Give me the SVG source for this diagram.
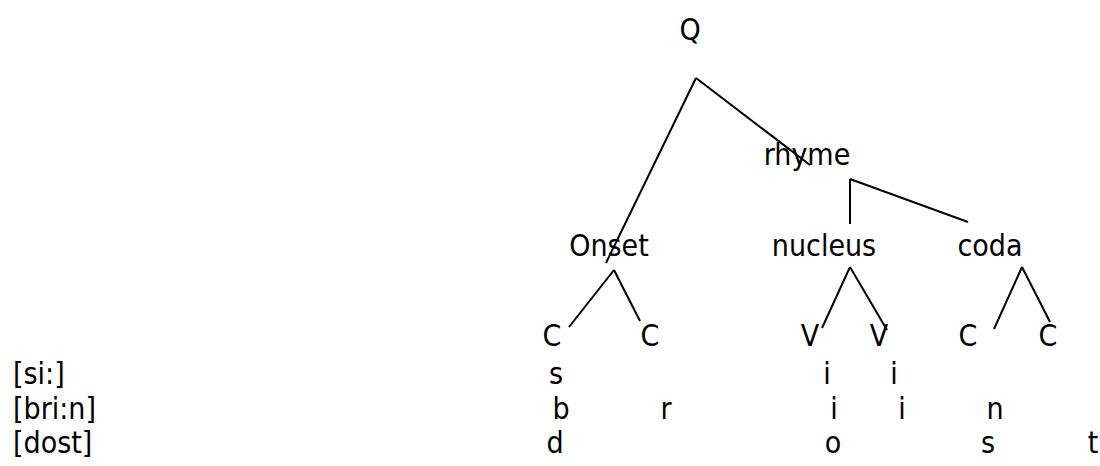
<svg xmlns="http://www.w3.org/2000/svg" width="1100" height="466" viewBox="0 0 1100 466">
<style>
text{font-family:"DejaVu Sans Condensed","DejaVu Sans",sans-serif;font-stretch:condensed;font-size:30px;fill:#000}
.m{text-anchor:middle}
line{stroke:#000;stroke-width:2;fill:none}
</style>
<rect width="1100" height="466" fill="#fff"/>
<g id="connectors">
<line x1="696" y1="78" x2="606" y2="263"/>
<line x1="696" y1="78" x2="810" y2="165"/>
<line x1="850" y1="179" x2="850" y2="224"/>
<line x1="850" y1="179" x2="968" y2="222"/>
<line x1="614" y1="270" x2="569" y2="327"/>
<line x1="614" y1="270" x2="640" y2="321"/>
<line x1="850" y1="267" x2="822" y2="328"/>
<line x1="850" y1="267" x2="887" y2="330"/>
<line x1="1022" y1="267" x2="994" y2="329"/>
<line x1="1022" y1="267" x2="1050" y2="322"/>
</g>
<g id="Q"><text class="m" x="690" y="40">Q</text></g>
<g id="rhyme"><text class="m" x="807" y="165">rhyme</text></g>
<g id="onset"><text class="m" x="609" y="256">Onset</text></g>
<g id="nucleus"><text class="m" x="824" y="256">nucleus</text></g>
<g id="coda"><text class="m" x="990" y="256">coda</text></g>
<g id="onset-c1"><text class="m" x="552" y="346">C</text></g>
<g id="onset-c2"><text class="m" x="650" y="346">C</text></g>
<g id="nucleus-v1"><text class="m" x="810" y="346">V</text></g>
<g id="nucleus-v2"><text class="m" x="879" y="346">V</text></g>
<g id="coda-c1"><text class="m" x="968" y="346">C</text></g>
<g id="coda-c2"><text class="m" x="1048" y="346">C</text></g>
<g id="words">
<text x="13" y="384">[si:]</text>
<text x="13" y="419">[bri:n]</text>
<text x="13" y="453">[dost]</text>
</g>
<g id="row1">
<text class="m" x="556" y="384">s</text>
<text class="m" x="827" y="384">i</text>
<text class="m" x="894" y="384">i</text>
</g>
<g id="row2">
<text class="m" x="561" y="419">b</text>
<text class="m" x="666" y="419">r</text>
<text class="m" x="834" y="419">i</text>
<text class="m" x="902" y="419">i</text>
<text class="m" x="995" y="419">n</text>
</g>
<g id="row3">
<text class="m" x="555" y="453">d</text>
<text class="m" x="833" y="453">o</text>
<text class="m" x="988" y="453">s</text>
<text class="m" x="1093" y="453">t</text>
</g>
</svg>
